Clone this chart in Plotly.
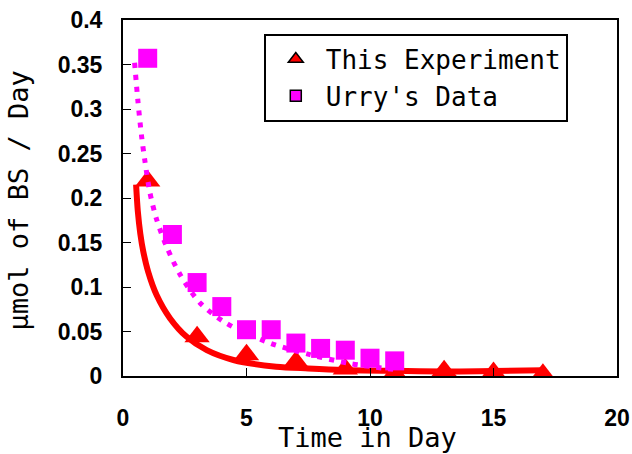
import plotly.graph_objects as go

# Measured data
exp_day = [1, 3, 5, 7, 9, 11, 13, 15, 17]
exp_val = [0.219, 0.044, 0.024, 0.016, 0.008, 0.003, 0.006, 0.004, 0.002]

urry_day = [1, 2, 3, 4, 5, 6, 7, 8, 9, 10, 11]
urry_val = [0.357, 0.159, 0.105, 0.078, 0.052, 0.052, 0.037, 0.031, 0.029, 0.020, 0.017]

# Fitted curves
exp_fit_day = [0.53, 0.6, 0.7, 0.82, 1.02, 1.36, 1.9, 2.58, 3.39, 4.47, 6.2, 7.5, 8.9, 11, 13, 15, 17]
exp_fit_val = [0.215, 0.185, 0.160, 0.140, 0.117, 0.091, 0.065, 0.044, 0.029, 0.018,
               0.0105, 0.0085, 0.0068, 0.0058, 0.005, 0.0055, 0.0065]

urry_fit_day = [0.47, 0.6, 0.75, 0.89, 1.09, 1.36, 1.77, 2.31, 3.12, 4.2, 5.95, 7.57, 9.2, 11.08]
urry_fit_val = [0.352, 0.31, 0.27, 0.241, 0.206, 0.176, 0.145, 0.114, 0.082, 0.059, 0.037, 0.024, 0.014, 0.007]

x_ticks = [0, 5, 10, 15, 20]
y_ticks = [0, 0.05, 0.1, 0.15, 0.2, 0.25, 0.3, 0.35, 0.4]
y_tick_text = ["0", "0.05", "0.1", "0.15", "0.2", "0.25", "0.3", "0.35", "0.4"]

x_title = "Time in Day"
y_title = "μmol of BS / Day"

RED = "#FF0000"
MAG = "#FF00FF"
MONO = "DejaVu Sans Mono"

fig = go.Figure()

fig.add_trace(go.Scatter(x=exp_day, y=exp_val, mode="markers", showlegend=False,
                         marker=dict(symbol="triangle-up", size=22, color=RED, line=dict(width=0))))
fig.add_trace(go.Scatter(x=exp_fit_day, y=exp_fit_val, mode="lines", showlegend=False,
                         line=dict(color=RED, width=6, shape="spline", smoothing=0.8)))
fig.add_trace(go.Scatter(x=urry_fit_day, y=urry_fit_val, mode="lines", showlegend=False,
                         line=dict(color=MAG, width=5, dash="5px,7px", shape="spline", smoothing=0.8)))
fig.add_trace(go.Scatter(x=urry_day, y=urry_val, mode="markers", showlegend=False,
                         marker=dict(symbol="square", size=19, color=MAG, line=dict(width=0))))

# legend entries
fig.add_trace(go.Scatter(x=[None], y=[None], mode="markers", name="This Experiment",
                         marker=dict(symbol="triangle-up", size=13, color=RED,
                                     line=dict(color="black", width=1.5))))
fig.add_trace(go.Scatter(x=[None], y=[None], mode="markers", name="Urry's Data",
                         marker=dict(symbol="square", size=11, color=MAG,
                                     line=dict(color="black", width=1.5))))

fig.update_layout(
    width=632, height=454,
    margin=dict(l=123, r=15, t=20, b=78),
    paper_bgcolor="white", plot_bgcolor="white",
    font=dict(family=MONO, color="black"),
    legend=dict(x=0.285, y=0.962, xanchor="left", yanchor="top",
                bgcolor="white", bordercolor="black", borderwidth=2,
                font=dict(family=MONO, size=26), itemwidth=50, tracegroupgap=0),
    xaxis=dict(range=[0, 20], tickvals=x_ticks, ticks="inside", ticklen=8, tickwidth=1,
               tickcolor="black", showline=True, linecolor="black", linewidth=2, mirror=True,
               showgrid=False, zeroline=False, automargin=False,
               tickfont=dict(family="Liberation Sans", size=23, weight="bold"),
               ticklabelstandoff=20),
    yaxis=dict(range=[0, 0.4], tickvals=y_ticks, ticktext=y_tick_text, ticks="inside", ticklen=8,
               tickwidth=1, tickcolor="black", showline=True, linecolor="black", linewidth=2,
               mirror=True, showgrid=False, zeroline=False, automargin=False,
               tickfont=dict(family="Liberation Sans", size=23, weight="bold"),
               ticklabelstandoff=14),
    annotations=[
        dict(text=x_title, xref="paper", yref="paper", x=0.494, y=-0.124,
             xanchor="center", yanchor="top", showarrow=False,
             font=dict(family=MONO, size=27, color="black")),
        dict(text=y_title, xref="paper", yref="paper", x=-0.212, y=0.494,
             xanchor="center", yanchor="middle", textangle=-90, showarrow=False,
             font=dict(family=MONO, size=27, color="black")),
    ],
)

fig.write_html("out.html")
